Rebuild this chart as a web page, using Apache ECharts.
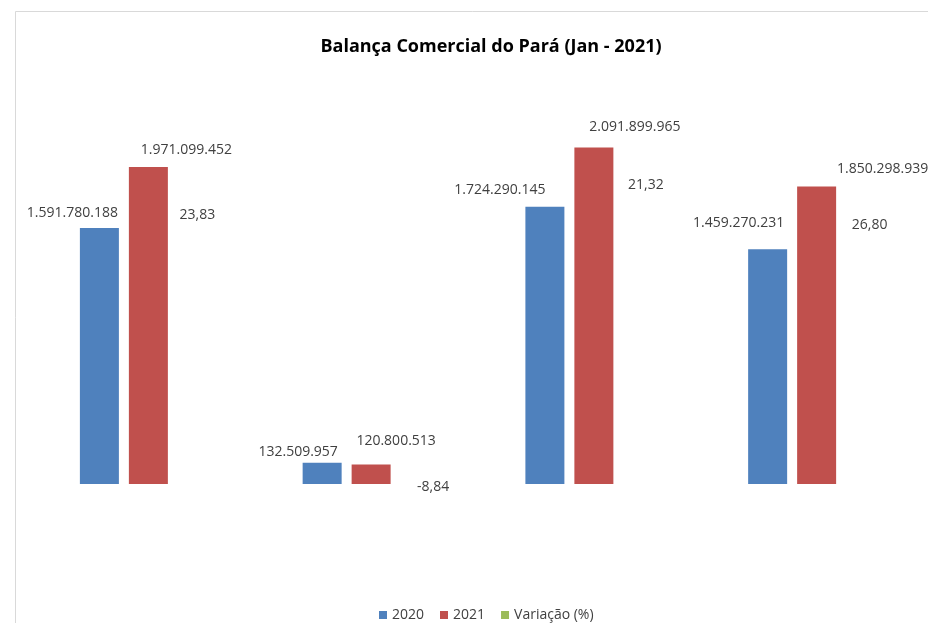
<!DOCTYPE html>
<html>
<head>
<meta charset="utf-8">
<script src="https://cdn.jsdelivr.net/npm/echarts@6/dist/echarts.min.js"></script>
<style>
html,body{margin:0;padding:0;background:#fff;}
#chart{width:928px;height:623px;}
</style>
</head>
<body>
<div id="chart"></div>
<script>
var categories = ['Exportação', 'Importação', 'Corrente de Comércio', 'Saldo'];
var values2020 = [1591780188, 132509957, 1724290145, 1459270231];
var values2021 = [1971099452, 120800513, 2091899965, 1850298939];
var variacao = [23.83, -8.84, 21.32, 26.80];
var seriesNames = ['2020', '2021', 'Variação (%)'];

function fmtInt(v) {
  return String(Math.round(v)).replace(/\B(?=(\d{3})+(?!\d))/g, '.');
}
function fmtDec(v) {
  return v.toFixed(2).replace('.', ',');
}

// label placement (manually moved labels in the original)
var off2020 = [[-27, -3], [-24, 1], [-45, -5], [-29, -14]];
var off2021 = [[38, -5], [25, -12], [41, -9], [66, -5]];
var offVar = [[0, -269], [13, 3], [3, -299], [4, -259]];

function withOffsets(vals, offs, pos) {
  return vals.map(function (v, i) {
    return { value: v, label: { offset: offs[i], position: pos } };
  });
}

var labelStyle = {
  show: true,
  color: '#404040',
  fontFamily: 'Open Sans',
  fontSize: 14
};

var chart = echarts.init(document.getElementById('chart'));
chart.setOption({
  animation: false,
  backgroundColor: '#fff',
  title: {
    text: 'Balança Comercial do Pará (Jan - 2021)',
    left: 486,
    textAlign: 'center',
    top: 33,
    textStyle: { fontFamily: 'Open Sans', fontSize: 18, fontWeight: 'bold', color: '#000' }
  },
  graphic: [{
    type: 'rect',
    shape: { x: 15.5, y: 11.5, width: 960, height: 640 },
    style: { fill: 'none', stroke: '#d9d9d9', lineWidth: 1 },
    silent: true
  }],
  legend: {
    bottom: -4,
    left: 374,
    itemWidth: 8,
    itemHeight: 8,
    itemGap: 16,
    icon: 'rect',
    textStyle: { fontFamily: 'Open Sans', fontSize: 14, color: '#404040' },
    data: seriesNames
  },
  grid: { left: 37, right: -2, top: 82, bottom: 58.6 },
  xAxis: {
    type: 'category',
    data: categories,
    show: false
  },
  yAxis: {
    type: 'value',
    min: -500000000,
    max: 2500000000,
    show: false,
    splitLine: { show: false }
  },
  series: [
    {
      name: seriesNames[0],
      type: 'bar',
      barWidth: 39,
      barGap: '25.6%',
      itemStyle: { color: '#4F81BD' },
      label: Object.assign({}, labelStyle, { formatter: function (p) { return fmtInt(p.value); } }),
      data: withOffsets(values2020, off2020, 'top')
    },
    {
      name: seriesNames[1],
      type: 'bar',
      barWidth: 39,
      barGap: '25.6%',
      itemStyle: { color: '#C0504D' },
      label: Object.assign({}, labelStyle, { formatter: function (p) { return fmtInt(p.value); } }),
      data: withOffsets(values2021, off2021, 'top')
    },
    {
      name: seriesNames[2],
      type: 'bar',
      barWidth: 39,
      barGap: '25.6%',
      itemStyle: { color: '#9BBB59' },
      label: Object.assign({}, labelStyle, { formatter: function (p) { return fmtDec(p.value); } }),
      data: withOffsets(variacao, offVar, 'inside')
    }
  ]
});
</script>
</body>
</html>
